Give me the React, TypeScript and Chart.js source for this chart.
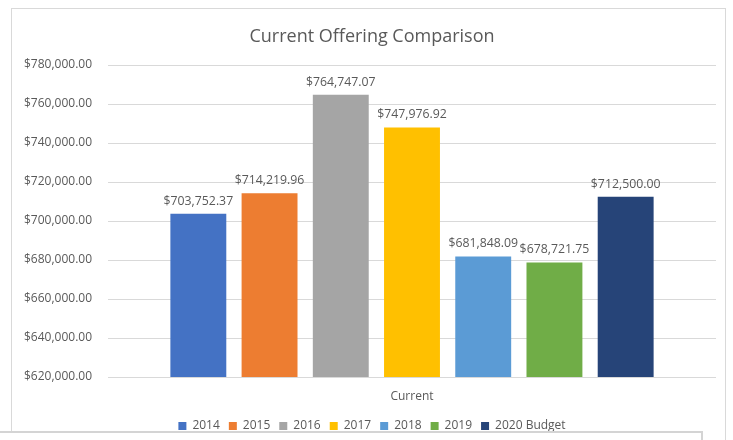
import React, { useEffect, useRef } from "react";
import { Chart, registerables } from "chart.js";

Chart.register(...registerables);

const categories = ["Current"];
const seriesNames = ["2014", "2015", "2016", "2017", "2018", "2019", "2020 Budget"];
const seriesValues = [703752.37, 714219.96, 764747.07, 747976.92, 681848.09, 678721.75, 712500.0];
const seriesColors = ["#4472C4", "#ED7D31", "#A5A5A5", "#FFC000", "#5B9BD5", "#70AD47", "#264478"];
const yMin = 620000;
const yMax = 780000;
const yStep = 20000;
const titleText = "Current Offering Comparison";

const FONT = "'Open Sans', 'Noto Sans', sans-serif";
const TEXT = "#595959";

const money = (v: number) =>
  "$" + v.toLocaleString("en-US", { minimumFractionDigits: 2, maximumFractionDigits: 2 });

const labelPlugin = {
  id: "barLabels",
  afterDatasetsDraw(chart: any) {
    const ctx = chart.ctx;
    ctx.save();
    ctx.font = `12.3px ${FONT}`;
    ctx.fillStyle = TEXT;
    ctx.textAlign = "center";
    ctx.textBaseline = "alphabetic";
    chart.data.datasets.forEach((ds: any, i: number) => {
      const meta = chart.getDatasetMeta(i);
      meta.data.forEach((bar: any, j: number) => {
        ctx.fillText(money(ds.data[j]), bar.x, bar.y - 9);
      });
    });
    ctx.restore();
  },
};

export default function App() {
  const ref = useRef<HTMLCanvasElement>(null);
  useEffect(() => {
    const chart = new Chart(ref.current!, {
      type: "bar",
      data: {
        labels: categories,
        datasets: seriesNames.map((name, i) => ({
          label: name,
          data: [seriesValues[i]],
          backgroundColor: seriesColors[i],
          borderWidth: 0,
          categoryPercentage: 0.82,
          barPercentage: 0.785,
        })),
      },
      options: {
        animation: false,
        responsive: false,
        devicePixelRatio: 1,
        layout: { padding: { left: 12, right: 1, top: 22, bottom: 0 } },
        plugins: {
          title: {
            display: true,
            text: titleText,
            color: TEXT,
            font: { family: FONT, size: 18, weight: "normal" },
            padding: { top: 4, bottom: 17.4 },
          },
          legend: {
            position: "bottom",
            labels: {
              color: TEXT,
              font: { family: FONT, size: 12 },
              boxWidth: 8,
              boxHeight: 8,
              padding: 9,
            },
          },
          tooltip: { enabled: false },
        },
        scales: {
          x: {
            grid: { display: false },
            border: { display: false },
            ticks: { color: TEXT, font: { family: FONT, size: 12 }, padding: 4 },
            afterFit: (s: any) => {
              s.height = 34;
            },
          },
          y: {
            min: yMin,
            max: yMax,
            grid: { color: "#d9d9d9", drawTicks: false },
            border: { display: false },
            ticks: {
              stepSize: yStep,
              color: TEXT,
              padding: 16,
              font: { family: FONT, size: 12 },
              callback: (v: any) => money(Number(v)),
            },
            afterFit: (s: any) => {
              s.width = 96;
            },
          },
          yRight: {
            position: "right",
            min: yMin,
            max: yMax,
            grid: { display: false, drawOnChartArea: false },
            border: { display: false },
            ticks: { display: false },
            afterFit: (s: any) => {
              s.width = 16;
            },
          },
        },
      },
      plugins: [labelPlugin],
    } as any);
    return () => chart.destroy();
  }, []);
  return (
    <div style={{ position: "fixed", left: 0, top: 0, width: 733, height: 440, background: "#fff", overflow: "hidden" }}>
      <div
        style={{
          position: "absolute",
          left: 11,
          top: 8,
          width: 715,
          height: 440,
          border: "1px solid #d9d9d9",
          boxSizing: "border-box",
        }}
      />
      <canvas ref={ref} width={733} height={442} style={{ position: "absolute", left: 0, top: 0 }} />
      <div
        style={{
          position: "absolute",
          left: 0,
          top: 431,
          width: 703,
          height: 20,
          borderTop: "2px solid #d4d4d4",
          borderRight: "2px solid #d4d4d4",
          background: "#fff",
          boxSizing: "border-box",
        }}
      />
    </div>
  );
}
